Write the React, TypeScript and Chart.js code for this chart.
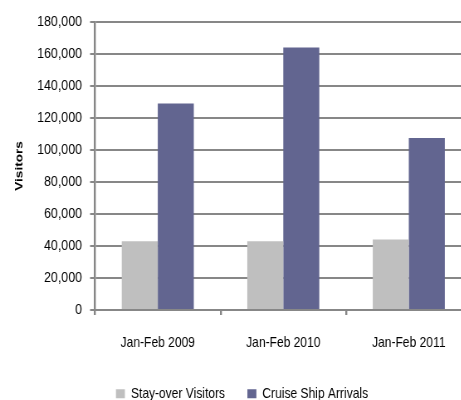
import { useEffect, useRef } from 'react';
import { Chart, registerables } from 'chart.js';

Chart.register(...registerables);

// Visitor arrivals, January–February of each year
const categories = ['Jan-Feb 2009', 'Jan-Feb 2010', 'Jan-Feb 2011'];
const stayOverVisitors = [43000, 43000, 44000];
const cruiseShipArrivals = [129000, 164000, 107500];
const seriesNames = ['Stay-over Visitors', 'Cruise Ship Arrivals'];
const yMin = 0;
const yMax = 180000;
const yStep = 20000;

// The chart is drawn on a wider canvas and squeezed horizontally,
// which gives the narrow lettering of the original figure.
const SQUEEZE = 0.83;
const CANVAS_W = 597;
const CANVAS_H = 411;

const FONT = '"Liberation Sans", Arial, sans-serif';
const AXIS_GRAY = '#878787';

export default function App() {
  const canvasRef = useRef<HTMLCanvasElement | null>(null);

  useEffect(() => {
    if (!canvasRef.current) return;
    const chart = new Chart(canvasRef.current, {
      type: 'bar',
      data: {
        labels: categories,
        datasets: [
          {
            label: seriesNames[0],
            data: stayOverVisitors,
            backgroundColor: '#bfbfbf',
            categoryPercentage: 0.574,
            barPercentage: 1,
          },
          {
            label: seriesNames[1],
            data: cruiseShipArrivals,
            backgroundColor: '#626590',
            categoryPercentage: 0.574,
            barPercentage: 1,
          },
        ],
      },
      options: {
        animation: false,
        responsive: true,
        maintainAspectRatio: false,
        devicePixelRatio: 1,
        layout: { padding: { left: 15, right: 28.9, top: 22, bottom: 0 } },
        plugins: {
          tooltip: { enabled: false },
          legend: {
            position: 'bottom',
            labels: {
              boxWidth: 10.8,
              boxHeight: 9,
              padding: 27,
              color: '#000',
              font: { family: FONT, size: 14.5 },
            },
          },
        },
        scales: {
          x: {
            offset: true,
            grid: {
              offset: true,
              drawOnChartArea: false,
              drawTicks: true,
              tickLength: 5,
              color: AXIS_GRAY,
              lineWidth: 2.4,
            },
            border: { display: true, color: AXIS_GRAY, width: 2 },
            ticks: {
              color: '#000',
              padding: 19,
              maxRotation: 0,
              font: { family: FONT, size: 14.5 },
            },
            afterFit: (scale: any) => {
              scale.height = 49.5;
            },
          },
          y: {
            min: yMin,
            max: yMax,
            ticks: {
              stepSize: yStep,
              color: '#000',
              padding: 9.6,
              font: { family: FONT, size: 15 },
              callback: (v: any) => Number(v).toLocaleString('en-US'),
            },
            grid: {
              color: AXIS_GRAY,
              lineWidth: 2,
              tickLength: 6,
            },
            border: { display: true, color: AXIS_GRAY, width: 2.4 },
            title: {
              display: true,
              text: 'Visitors',
              color: '#000',
              padding: { top: 0, bottom: 0 },
              font: { family: FONT, size: 13.5, weight: 'bold' },
            },
            afterFit: (scale: any) => {
              scale.width = 99.5;
            },
          },
        },
      },
    });
    return () => chart.destroy();
  }, []);

  return (
    <div
      style={{
        position: 'fixed',
        left: 0,
        top: 0,
        width: 461,
        height: 400,
        overflow: 'hidden',
        background: '#fff',
      }}
    >
      <div
        style={{
          position: 'relative',
          width: CANVAS_W,
          height: CANVAS_H,
          transform: `scaleX(${SQUEEZE})`,
          transformOrigin: '0 0',
        }}
      >
        <canvas ref={canvasRef} />
      </div>
    </div>
  );
}
